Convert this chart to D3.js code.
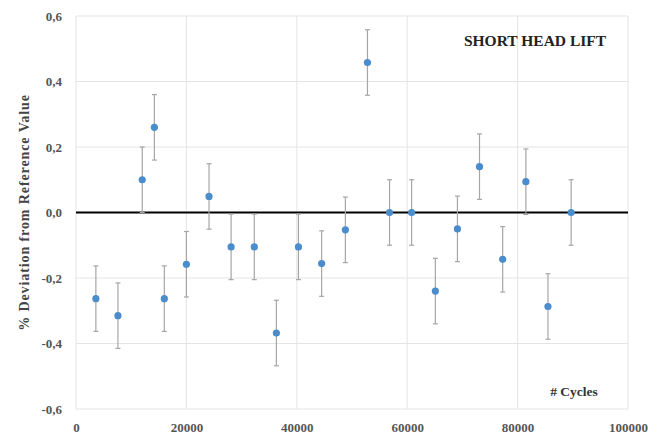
<!DOCTYPE html>
<html><head><meta charset="utf-8">
<script src="https://cdn.jsdelivr.net/npm/d3@7"></script>
<style>body{margin:0;background:#fff}svg{display:block}</style>
</head><body>
<script>
const cycles = [3600, 7600, 12000, 14200, 16000, 20000, 24100, 28100, 32300, 36300, 40300, 44500, 48800, 52800, 56800, 60800, 65100, 69100, 73100, 77300, 81500, 85500, 89700];
const deviation = [-0.263, -0.315, 0.10, 0.26, -0.263, -0.158, 0.049, -0.105, -0.105, -0.368, -0.105, -0.156, -0.053, 0.458, 0.0, 0.0, -0.24, -0.05, 0.14, -0.143, 0.094, -0.287, 0.0];
const errorBar = [0.1, 0.1, 0.1, 0.1, 0.1, 0.1, 0.1, 0.1, 0.1, 0.1, 0.1, 0.1, 0.1, 0.1, 0.1, 0.1, 0.1, 0.1, 0.1, 0.1, 0.1, 0.1, 0.1];
const xTicks = [0, 20000, 40000, 60000, 80000, 100000];
const yTicks = [-0.6, -0.4, -0.2, 0.0, 0.2, 0.4, 0.6];
const title = "SHORT HEAD LIFT";
const xTitle = "# Cycles";
const yTitle = "% Deviation from Reference Value";

const W = 659, H = 437;
const m = {left: 76, right: 31, top: 16, bottom: 28};
const svg = d3.select("body").append("svg").attr("width", W).attr("height", H);
const x = d3.scaleLinear().domain([0, 100000]).range([m.left, W - m.right]);
const y = d3.scaleLinear().domain([-0.6, 0.6]).range([H - m.bottom, m.top]);
const font = "'Liberation Serif', serif";

// gridlines
svg.append("g").selectAll("line").data(yTicks).join("line")
  .attr("x1", x(0)).attr("x2", x(100000)).attr("y1", d => y(d)).attr("y2", d => y(d))
  .attr("stroke", "#e4e4e4").attr("stroke-width", 1);
svg.append("g").selectAll("line").data(xTicks).join("line")
  .attr("x1", d => x(d)).attr("x2", d => x(d)).attr("y1", y(0.6)).attr("y2", y(-0.6))
  .attr("stroke", "#e4e4e4").attr("stroke-width", 1);

// axes (labels only)
const xAxis = svg.append("g").attr("transform", `translate(0,${y(-0.6)})`)
  .call(d3.axisBottom(x).tickValues(xTicks).tickSize(0).tickPadding(14).tickFormat(d3.format("d")));
const yAxis = svg.append("g").attr("transform", `translate(${x(0)},0)`)
  .call(d3.axisLeft(y).tickValues(yTicks).tickSize(0).tickPadding(14).tickFormat(d => d3.format(".1f")(d).replace(".", ",").replace("−", "-")));
[xAxis, yAxis].forEach(a => {
  a.select(".domain").remove();
  a.selectAll("text").attr("font-family", font).attr("font-weight", "bold").attr("font-size", 13).attr("fill", "#555");
});

// zero line
svg.append("line").attr("x1", x(0)).attr("x2", x(100000)).attr("y1", y(0)).attr("y2", y(0))
  .attr("stroke", "#000").attr("stroke-width", 2);

// error bars
const data = cycles.map((c, i) => ({c, v: deviation[i], e: errorBar[i]}));
const eb = svg.append("g").attr("stroke", "#a6a6a6").attr("stroke-width", 1.2);
eb.selectAll(".v").data(data).join("line")
  .attr("x1", d => x(d.c)).attr("x2", d => x(d.c)).attr("y1", d => y(d.v - d.e)).attr("y2", d => y(d.v + d.e));
eb.selectAll(".t").data(data).join("line")
  .attr("x1", d => x(d.c) - 2.5).attr("x2", d => x(d.c) + 2.5).attr("y1", d => y(d.v + d.e)).attr("y2", d => y(d.v + d.e));
eb.selectAll(".b").data(data).join("line")
  .attr("x1", d => x(d.c) - 2.5).attr("x2", d => x(d.c) + 2.5).attr("y1", d => y(d.v - d.e)).attr("y2", d => y(d.v - d.e));

// points
svg.append("g").selectAll("circle").data(data).join("circle")
  .attr("cx", d => x(d.c)).attr("cy", d => y(d.v)).attr("r", 3.6).attr("fill", "#4a8ccc");

// texts
svg.append("text").attr("x", 535).attr("y", 46).attr("text-anchor", "middle")
  .attr("font-family", font).attr("font-weight", "bold").attr("font-size", 15.5).attr("fill", "#222").text(title);
svg.append("text").attr("x", 574).attr("y", 396).attr("text-anchor", "middle")
  .attr("font-family", font).attr("font-weight", "bold").attr("font-size", 13.5).attr("fill", "#333").text(xTitle);
svg.append("text").attr("transform", `translate(29,${(y(0.35) + y(-0.35)) / 2}) rotate(-90)`).attr("text-anchor", "middle")
  .attr("font-family", font).attr("font-weight", "bold").attr("font-size", 14).attr("letter-spacing", 0.9).attr("fill", "#444").text(yTitle);
</script>
</body></html>
